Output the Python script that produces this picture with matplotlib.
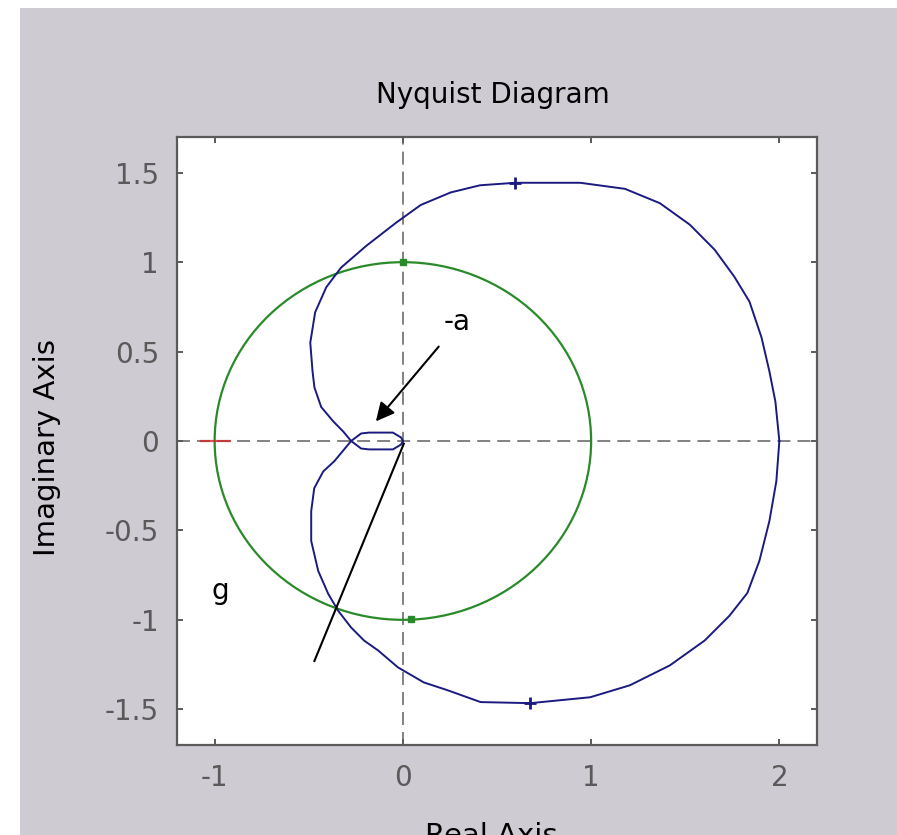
import matplotlib
matplotlib.use("Agg")
import matplotlib.pyplot as plt
from matplotlib.patches import Circle, Rectangle

plt.rcParams['font.family'] = ['DejaVu Sans']
plt.rcParams['axes.unicode_minus'] = False

# blue branch through upper half (real, imag)
blue_up_re = [2.0, 1.979, 1.947, 1.905, 1.841, 1.76, 1.656, 1.524, 1.365, 1.18, 0.942, 0.598,
              0.41, 0.254, 0.095, -0.037, -0.196, -0.328, -0.407, -0.466, -0.492, -0.48, -0.47,
              -0.434, -0.37, -0.317, -0.275, -0.222, -0.18, -0.053, -0.01, 0.0]
blue_up_im = [0.0, 0.22, 0.39, 0.58, 0.78, 0.92, 1.07, 1.21, 1.33, 1.41, 1.444, 1.444,
              1.43, 1.39, 1.32, 1.22, 1.09, 0.97, 0.86, 0.72, 0.55, 0.39, 0.30,
              0.19, 0.11, 0.053, 0.0, -0.042, -0.047, -0.047, -0.02, 0.0]
# blue branch through lower half
blue_lo_re = [2.0, 1.984, 1.947, 1.894, 1.83, 1.735, 1.603, 1.418, 1.206, 0.995, 0.677, 0.413,
              0.238, 0.111, -0.026, -0.132, -0.206, -0.275, -0.344, -0.397, -0.45, -0.487,
              -0.487, -0.471, -0.423, -0.365, -0.286, -0.275, -0.222, -0.18, -0.053, -0.01, 0.0]
blue_lo_im = [0.0, -0.225, -0.448, -0.67, -0.85, -0.977, -1.116, -1.255, -1.366, -1.433, -1.466, -1.46,
              -1.394, -1.35, -1.266, -1.171, -1.116, -1.043, -0.949, -0.854, -0.726, -0.559,
              -0.392, -0.264, -0.17, -0.114, -0.014, 0.0, 0.042, 0.047, 0.047, 0.02, 0.0]
blue_arrows_re = [0.598, 0.677]
blue_arrows_im = [1.444, -1.466]

# green curve: unit circle
green_center = (0.0, 0.0)
green_radius = 1.0
green_arrows_re = [0.0, 0.042]
green_arrows_im = [1.0, -0.993]

# red mark at the critical point
red_re = [-1.07, -0.92]
red_im = [0.0, 0.0]

# black line g
g_line_re = [0.005, -0.47]
g_line_im = [-0.015, -1.23]

xticks = [-1, 0, 1, 2]
xtick_labels = ['-1', '0', '1', '2']
yticks = [1.5, 1, 0.5, 0, -0.5, -1, -1.5]
ytick_labels = ['1.5', '1', '0.5', '0', '-0.5', '-1', '-1.5']

W, H = 897, 835
fig = plt.figure(figsize=(W / 100, H / 100), dpi=100, facecolor='white')
bg = '#cfcbd3'
fig.patches.append(Rectangle((20 / W, 0), 1 - 20 / W, 1 - 8 / H, transform=fig.transFigure,
                             facecolor=bg, edgecolor='none', zorder=-10))

ax = fig.add_axes([177 / W, 1 - 745 / H, (817 - 177) / W, (745 - 137) / H])
ax.set_facecolor('white')
ax.set_xlim(-1.2, 2.2)
ax.set_ylim(-1.7, 1.7)

gray = '#5a5a5a'
ax.axhline(0, color='#606060', lw=1.1, ls=(0, (8.5, 4.6)), zorder=1)
ax.axvline(0, color='#606060', lw=1.1, ls=(0, (8.5, 4.6)), zorder=1)

ax.add_patch(Circle(green_center, green_radius, fill=False, edgecolor='#2a8a2a', lw=1.6, zorder=2))
ax.plot(green_arrows_re, green_arrows_im, ls='none', marker='s', ms=4, color='#2a8a2a', zorder=3)

ax.plot(blue_up_re, blue_up_im, color='#1a1a80', lw=1.4, zorder=3)
ax.plot(blue_lo_re, blue_lo_im, color='#1a1a80', lw=1.4, zorder=3)
ax.plot(blue_arrows_re, blue_arrows_im, ls='none', marker='+', ms=8, mew=2, color='#1a1a80', zorder=4)

ax.plot(red_re, red_im, color='#cc2a2a', lw=1.6, alpha=0.8, zorder=2)

ax.plot(g_line_re, g_line_im, color='black', lw=1.5, zorder=4)
ax.annotate('', xy=(-0.153, 0.098), xytext=(0.2, 0.54),
            arrowprops=dict(arrowstyle='-|>', color='black', lw=1.5, mutation_scale=28), zorder=5)
ax.text(0.29, 0.665, '-a', fontsize=20, ha='center', va='center', color='black')
ax.text(-0.97, -0.84, 'g', fontsize=20, ha='center', va='center', color='black')

ax.set_xticks(xticks)
ax.set_xticklabels(xtick_labels)
ax.set_yticks(yticks)
ax.set_yticklabels(ytick_labels)
ax.tick_params(direction='in', length=4, width=1.4, color=gray, labelcolor=gray,
               labelsize=20, top=True, right=True)
ax.tick_params(axis='x', pad=14)
ax.tick_params(axis='y', pad=13)
for s in ax.spines.values():
    s.set_color(gray)
    s.set_linewidth(1.6)

fig.text(493 / W, 1 - 103 / H, 'Nyquist Diagram', fontsize=20, ha='center', va='baseline')
fig.text(47 / W, 1 - 448 / H, 'Imaginary Axis', fontsize=21, ha='center', va='center', rotation=90)
fig.text(491 / W, 1 - 822 / H, 'Real Axis', fontsize=21, ha='center', va='top')

fig.savefig('out.png', dpi=100, facecolor=fig.get_facecolor())
